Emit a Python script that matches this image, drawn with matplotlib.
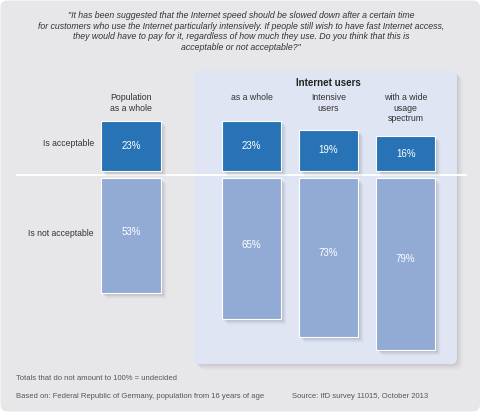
import matplotlib
matplotlib.use("Agg")
import matplotlib.pyplot as plt
from matplotlib.patches import FancyBboxPatch

# ---- data ----
groups = ["Population\nas a whole", "as a whole", "Intensive\nusers", "with a wide\nusage\nspectrum"]
acceptable = [23, 23, 19, 16]
not_acceptable = [53, 65, 73, 79]
row_labels = ["Is acceptable", "Is not acceptable"]
panel_title = "Internet users"
question = ("\"It has been suggested that the Internet speed should be slowed down after a certain time\n"
            "for customers who use the Internet particularly intensively. If people still wish to have fast Internet access,\n"
            "they would have to pay for it, regardless of how much they use. Do you think that this is\n"
            "acceptable or not acceptable?\"")
note = "Totals that do not amount to 100% = undecided"
basis = "Based on: Federal Republic of Germany, population from 16 years of age"
source = "Source: IfD survey 11015, October 2013"

# ---- layout ----
W, H = 482, 413
S = 2.17          # pixels per percent
BASE = 174.6      # pixel y of the divider line
GAP = 1.7         # percent gap between divider and bars
centers = [131.2, 251.7, 328.5, 405.7]
bw = 59.5

DARK = "#2873b5"
LIGHT = "#92abd5"
BG = "#e7e7e9"
PANEL = "#dfe5f3"
TXT = "#333333"

plt.rcParams['font.family'] = ['Liberation Sans', 'DejaVu Sans']

fig = plt.figure(figsize=(W / 100, H / 100), dpi=100)
fig.patch.set_facecolor("white")

# background axes in pixel coordinates
bg = fig.add_axes([0, 0, 1, 1])
bg.set_xlim(0, W)
bg.set_ylim(H, 0)
bg.axis("off")

bg.add_patch(FancyBboxPatch((0.5, 0.5), W - 2.5, H - 2, boxstyle="round,pad=0,rounding_size=7",
                            fc=BG, ec="none", zorder=0))
# panel shadow
for i, a in enumerate([0.06, 0.05, 0.045, 0.035, 0.025, 0.015]):
    o = i + 1
    bg.add_patch(FancyBboxPatch((194 + o, 70.7 + o), 263, 293.5, boxstyle="round,pad=0,rounding_size=6",
                                fc="#606070", ec="none", alpha=a, zorder=1))
bg.add_patch(FancyBboxPatch((194, 70.7), 263, 293.5, boxstyle="round,pad=0,rounding_size=6",
                            fc=PANEL, ec="none", zorder=2))

bg.text(241, 31.5, question, ha="center", va="center", fontsize=6.35, style="italic",
        color=TXT, linespacing=1.27, zorder=5)
bg.text(328, 83, panel_title, ha="center", va="center", fontsize=7.0, fontweight="bold",
        color="#222222", zorder=5)
for c, g in zip(centers, groups):
    bg.text(c, 92.8, g, ha="center", va="top", fontsize=6.3, color=TXT, linespacing=1.25, zorder=5)

bg.plot([16, 467], [BASE, BASE], color="white", lw=1.4, zorder=3, solid_capstyle="butt")

bg.text(94, 144, row_labels[0], ha="right", va="center", fontsize=6.2, color=TXT, zorder=5)
bg.text(94, 233, row_labels[1], ha="right", va="center", fontsize=6.2, color=TXT, zorder=5)

bg.text(16, 379, note, ha="left", va="center", fontsize=5.5, color="#555555", zorder=5)
bg.text(16, 396.5, basis, ha="left", va="center", fontsize=5.5, color="#555555", zorder=5)
bg.text(292.5, 396.5, source, ha="left", va="center", fontsize=5.5, color="#555555", zorder=5)

# bars axes: x in pixels, y in percent
ax = fig.add_axes([0, 0, 1, 1])
ax.patch.set_alpha(0)
ax.set_xlim(0, W)
ax.set_ylim(-(H - BASE) / S, BASE / S)
ax.axis("off")

# soft shadows
for i, a in enumerate([0.10, 0.08, 0.065, 0.05, 0.035, 0.02]):
    o = i + 1.0
    ax.bar([c + o for c in centers], acceptable, width=bw, bottom=GAP - o / S,
           color="#505060", alpha=a, lw=0, zorder=1)
    ax.bar([c + o for c in centers], [-v for v in not_acceptable], width=bw, bottom=-GAP - o / S,
           color="#505060", alpha=a, lw=0, zorder=1)

ax.bar(centers, acceptable, width=bw, bottom=GAP, color=DARK, edgecolor="white", lw=0.8, zorder=3)
ax.bar(centers, [-v for v in not_acceptable], width=bw, bottom=-GAP, color=LIGHT,
       edgecolor="white", lw=0.8, zorder=3)

for c, v in zip(centers, acceptable):
    ax.text(c, GAP + v / 2, f"{v}%", ha="center", va="center", fontsize=7.0, color="white", zorder=5)
for c, v in zip(centers, not_acceptable):
    ax.text(c, -GAP - v * 0.47, f"{v}%", ha="center", va="center", fontsize=7.0, color="white", zorder=5)

fig.savefig("out.png", dpi=100, facecolor=fig.get_facecolor())
